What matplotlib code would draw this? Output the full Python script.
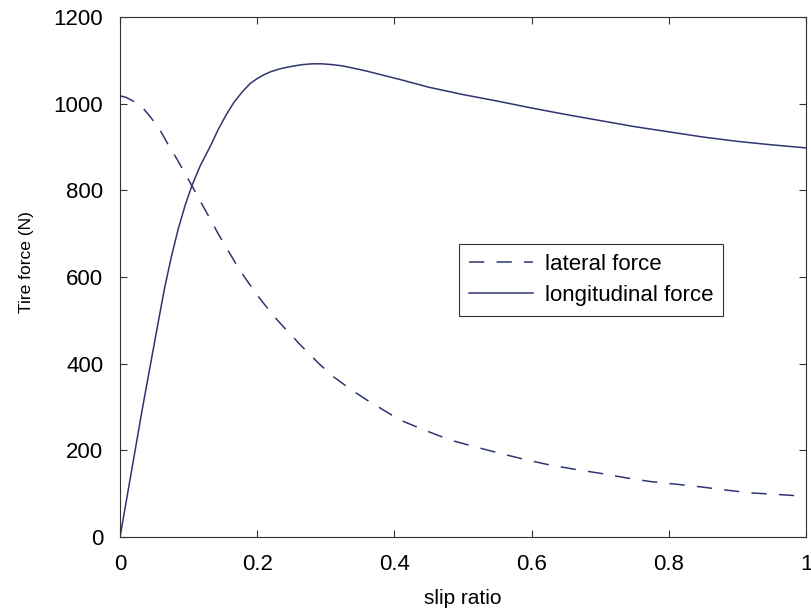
import matplotlib
matplotlib.use("Agg")
import matplotlib.pyplot as plt

plt.rcParams['font.family'] = ['Liberation Sans', 'DejaVu Sans']

# values
slip_lon = [0, 0.011, 0.022, 0.033, 0.044, 0.055, 0.065, 0.075, 0.085, 0.095,
            0.105, 0.117, 0.131, 0.143, 0.155, 0.166, 0.178, 0.19, 0.20, 0.21,
            0.22, 0.23, 0.24, 0.25, 0.265, 0.28, 0.295, 0.31, 0.325, 0.34,
            0.36, 0.38, 0.41, 0.45, 0.50, 0.55, 0.60, 0.65, 0.70, 0.75,
            0.80, 0.85, 0.90, 0.95, 1.0]
force_lon = [0, 100, 200, 300, 395, 490, 575, 648, 712, 766,
             812, 857, 900, 940, 975, 1003, 1027, 1047, 1058, 1067,
             1074, 1079, 1083, 1086, 1090, 1092, 1092, 1090, 1087, 1082,
             1075, 1067, 1055, 1038, 1021, 1006, 990, 975, 961, 947,
             935, 923, 913, 905, 898]

slip_lat = [0, 0.008, 0.017, 0.026, 0.034, 0.045, 0.058, 0.07, 0.083, 0.094,
            0.105, 0.118, 0.131, 0.143, 0.156, 0.168, 0.18, 0.192, 0.204, 0.216,
            0.228, 0.24, 0.25, 0.26, 0.27, 0.29, 0.311, 0.335, 0.36, 0.385,
            0.408, 0.445, 0.481, 0.518, 0.554, 0.59, 0.627, 0.664, 0.70, 0.736,
            0.773, 0.81, 0.845, 0.88, 0.918, 0.96, 1.0]
force_lat = [1018, 1015, 1008, 999, 989, 968, 940, 906, 872, 841,
             810, 772, 735, 700, 665, 633, 603, 576, 550, 526,
             503, 482, 466, 448, 432, 400, 370, 342, 316, 292,
             270, 246, 224, 208, 193, 179, 166, 156, 147, 137,
             128, 122, 116, 109, 102, 98, 94]

xticks = [0, 0.2, 0.4, 0.6, 0.8, 1]
xticklabels = ['0', '0.2', '0.4', '0.6', '0.8', '1']
yticks = [0, 200, 400, 600, 800, 1000, 1200]

line_color = '#2e3570'

fig = plt.figure(figsize=(8.11, 6.12), dpi=100)
ax = fig.add_axes([0.148, 0.1225, 0.846, 0.8497])

ax.plot(slip_lat, force_lat, color=line_color, linewidth=1.1,
        dashes=(10, 8), label='lateral force')
ax.plot(slip_lon, force_lon, color=line_color, linewidth=1.1,
        label='longitudinal force')

ax.set_xlim(0, 1)
ax.set_ylim(0, 1200)
ax.set_xticks(xticks)
ax.set_xticklabels(xticklabels)
ax.set_yticks(yticks)
ax.tick_params(direction='in', length=5, width=0.8, labelsize=16, pad=12,
               top=True, right=True, colors='#333333', labelcolor='black')
for sp in ax.spines.values():
    sp.set_color('#333333')
    sp.set_linewidth(0.8)

ax.set_xlabel('slip ratio', fontsize=15, labelpad=10)
ax.set_ylabel('Tire force (N)', fontsize=12.5)
ax.yaxis.set_label_coords(-0.125, 0.529)

leg = ax.legend(loc='upper left', bbox_to_anchor=(459 / 811, 1 - 244 / 612),
                bbox_transform=fig.transFigure, fontsize=16, borderaxespad=0,
                handlelength=2.9, handletextpad=0.5, borderpad=0.45,
                labelspacing=0.45, fancybox=False, framealpha=1)
leg.get_frame().set_edgecolor('#333333')
leg.get_frame().set_linewidth(0.8)

fig.savefig('out.png', dpi=100)
